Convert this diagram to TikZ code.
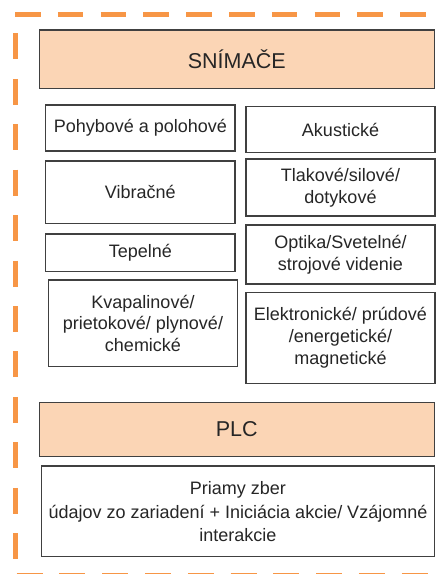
\documentclass[tikz,border=0pt]{standalone}
\usepackage{fontspec}
\setmainfont{Liberation Sans}
\definecolor{frameorange}{HTML}{F79646}
\definecolor{headfill}{HTML}{FBD5B5}
\definecolor{boxline}{HTML}{404040}
\definecolor{txt}{HTML}{262626}
\begin{document}
\begin{tikzpicture}[x=1pt,y=-1pt,
  box/.style={draw=boxline,line width=1.2pt,fill=white,inner sep=0pt,outer sep=0pt,
    align=center,text=txt,font=\fontsize{18}{21.7}\selectfont},
  headbox/.style={box,fill=headfill,font=\fontsize{21.5}{25}\selectfont},
  framedash/.style={draw=frameorange,line width=5pt}]
\useasboundingbox (0,0) rectangle (443,574);
\clip (0,0) rectangle (443,574);

% dashed orange frame (top, left, bottom)
\coordinate (tl) at (15,14.7);
\coordinate (tr) at (450,14.7);
\coordinate (ls) at (15,33.3);
\coordinate (le) at (15,562);
\coordinate (bl) at (16.7,575.2);
\coordinate (br) at (450,575.2);
\draw[framedash,dash pattern=on 25.5pt off 17.3pt] (tl) -- (tr);
\draw[framedash,dash pattern=on 26pt off 19.45pt] (ls) -- (le);
\draw[framedash,dash pattern=on 26pt off 16.78pt] (bl) -- (br);

% header
\node[headbox,minimum width=395pt,minimum height=58.3pt] (snimace) at (236.8,59.2) {SNÍMAČE};

% sensor categories, left column
\node[box,minimum width=189.3pt,minimum height=46pt] (pohyb) at (140.35,128) {Pohybové a polohové};
\node[box,minimum width=189.3pt,minimum height=62.3pt] (vibr) at (140.35,192.2) {Vibračné};
\node[box,minimum width=189.3pt,minimum height=37.7pt] (tepel) at (140.35,252.85) {Tepelné};
\node[box,minimum width=189.4pt,minimum height=86.7pt] (kvapal) at (143,323.35) {Kvapalinové/\\prietokové/ plynové/\\chemické};

% sensor categories, right column
\node[box,minimum width=189pt,minimum height=45.6pt] (akust) at (340.5,129.5) {Akustické};
\node[box,minimum width=189pt,minimum height=57pt] (tlak) at (340.5,187.5) {Tlakové/silové/\\dotykové};
\node[box,minimum width=189pt,minimum height=59pt] (optika) at (340.5,254.5) {Optika/Svetelné/\\strojové videnie};
\node[box,minimum width=189pt,minimum height=91pt] (elektr) at (340.5,337.8) {Elektronické/ prúdové\\/energetické/\\magnetické};

% controller
\node[headbox,minimum width=395pt,minimum height=54.4pt] (plc) at (236.8,429.5) {PLC};
\node[box,minimum width=392.6pt,minimum height=90.7pt,font=\fontsize{18}{22.7}\selectfont] (priamy) at (238,511.35)
  {Priamy zber\\[1.5pt]údajov zo zariadení + Iniciácia akcie/ Vzájomné\\interakcie};
\end{tikzpicture}
\end{document}
